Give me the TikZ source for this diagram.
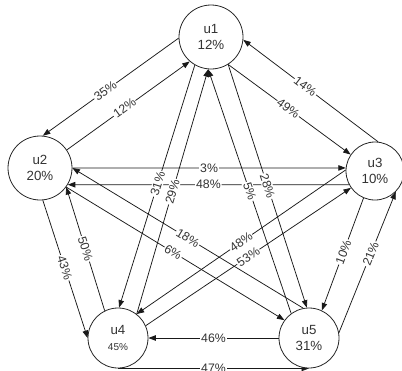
\documentclass[tikz,border=0pt]{standalone}
\usepackage{fontspec}
\setmainfont{Liberation Sans}
\usetikzlibrary{arrows.meta}
\pgfdeclarelayer{lines}
\pgfsetlayers{lines,main}

% one transition: line with arrow on the lower layer, percentage on top
\newcommand\flow[4][0.5]{%
  \begin{pgfonlayer}{lines}\draw[flowline] (#2) -- (#3);\end{pgfonlayer}
  \path (#2) -- node[pct,pos=#1] {#4} (#3);}

\begin{document}
\begin{tikzpicture}[x=1pt,y=-1pt,
  state/.style={circle, draw=black!85, line width=0.8pt, fill=white, inner sep=0pt,
    minimum size=#1, align=center, text=black!80,
    font=\fontsize{13.3}{16}\selectfont},
  flowline/.style={draw=black!90, line width=0.75pt,
    -{Triangle[length=7.5pt,width=5.5pt]}},
  pct/.style={fill=white, inner sep=1pt, sloped, text=black!80,
    font=\fontsize{12.3}{14}\selectfont}
]
\useasboundingbox (0,0) rectangle (402,370);

% states
\node[state=64pt] (u1) at (211,37)  {u1\\12\%};
\node[state=64pt] (u2) at (40,168)  {u2\\20\%};
\node[state=58pt] (u3) at (375,171) {u3\\10\%};
\node[state=60pt] (u4) at (118,338) {u4\\{\fontsize{10}{12}\selectfont 45\%}};
\node[state=60pt] (u5) at (309,338) {u5\\31\%};

% transitions
\flow[0.54]{u1.182}{u2.85}{35\%}
\flow[0.47]{u2.34}{u1.229}{12\%}
\flow[0.54]{u3.84}{u1.-5}{14\%}
\flow[0.49]{u1.-58}{u3.146}{49\%}
\flow{u2.0}{u3.174}{3\%}
\flow{u3.208}{u2.-31}{48\%}
\flow[0.49]{u1.-120}{u4.88}{31\%}
\flow{u4.52}{u1.-95}{29\%}
\flow{u5.126}{u1.-95}{5\%}
\flow{u1.-58}{u5.94}{28\%}
\flow[0.49]{u2.-85}{u4.180}{43\%}
\flow{u4.116}{u2.-36}{50\%}
\flow{u5.101}{u2.0}{18\%}
\flow[0.49]{u2.-36}{u5.144}{6\%}
\flow{u3.178}{u4.52}{48\%}
\flow{u4.24}{u3.215}{53\%}
\flow[0.48]{u3.-113}{u5.65}{10\%}
\flow[0.56]{u5.10}{u3.-45}{21\%}
\flow{u5.180}{u4.0}{46\%}
\flow{u4.-90}{u5.-90}{47\%}
\end{tikzpicture}
\end{document}
